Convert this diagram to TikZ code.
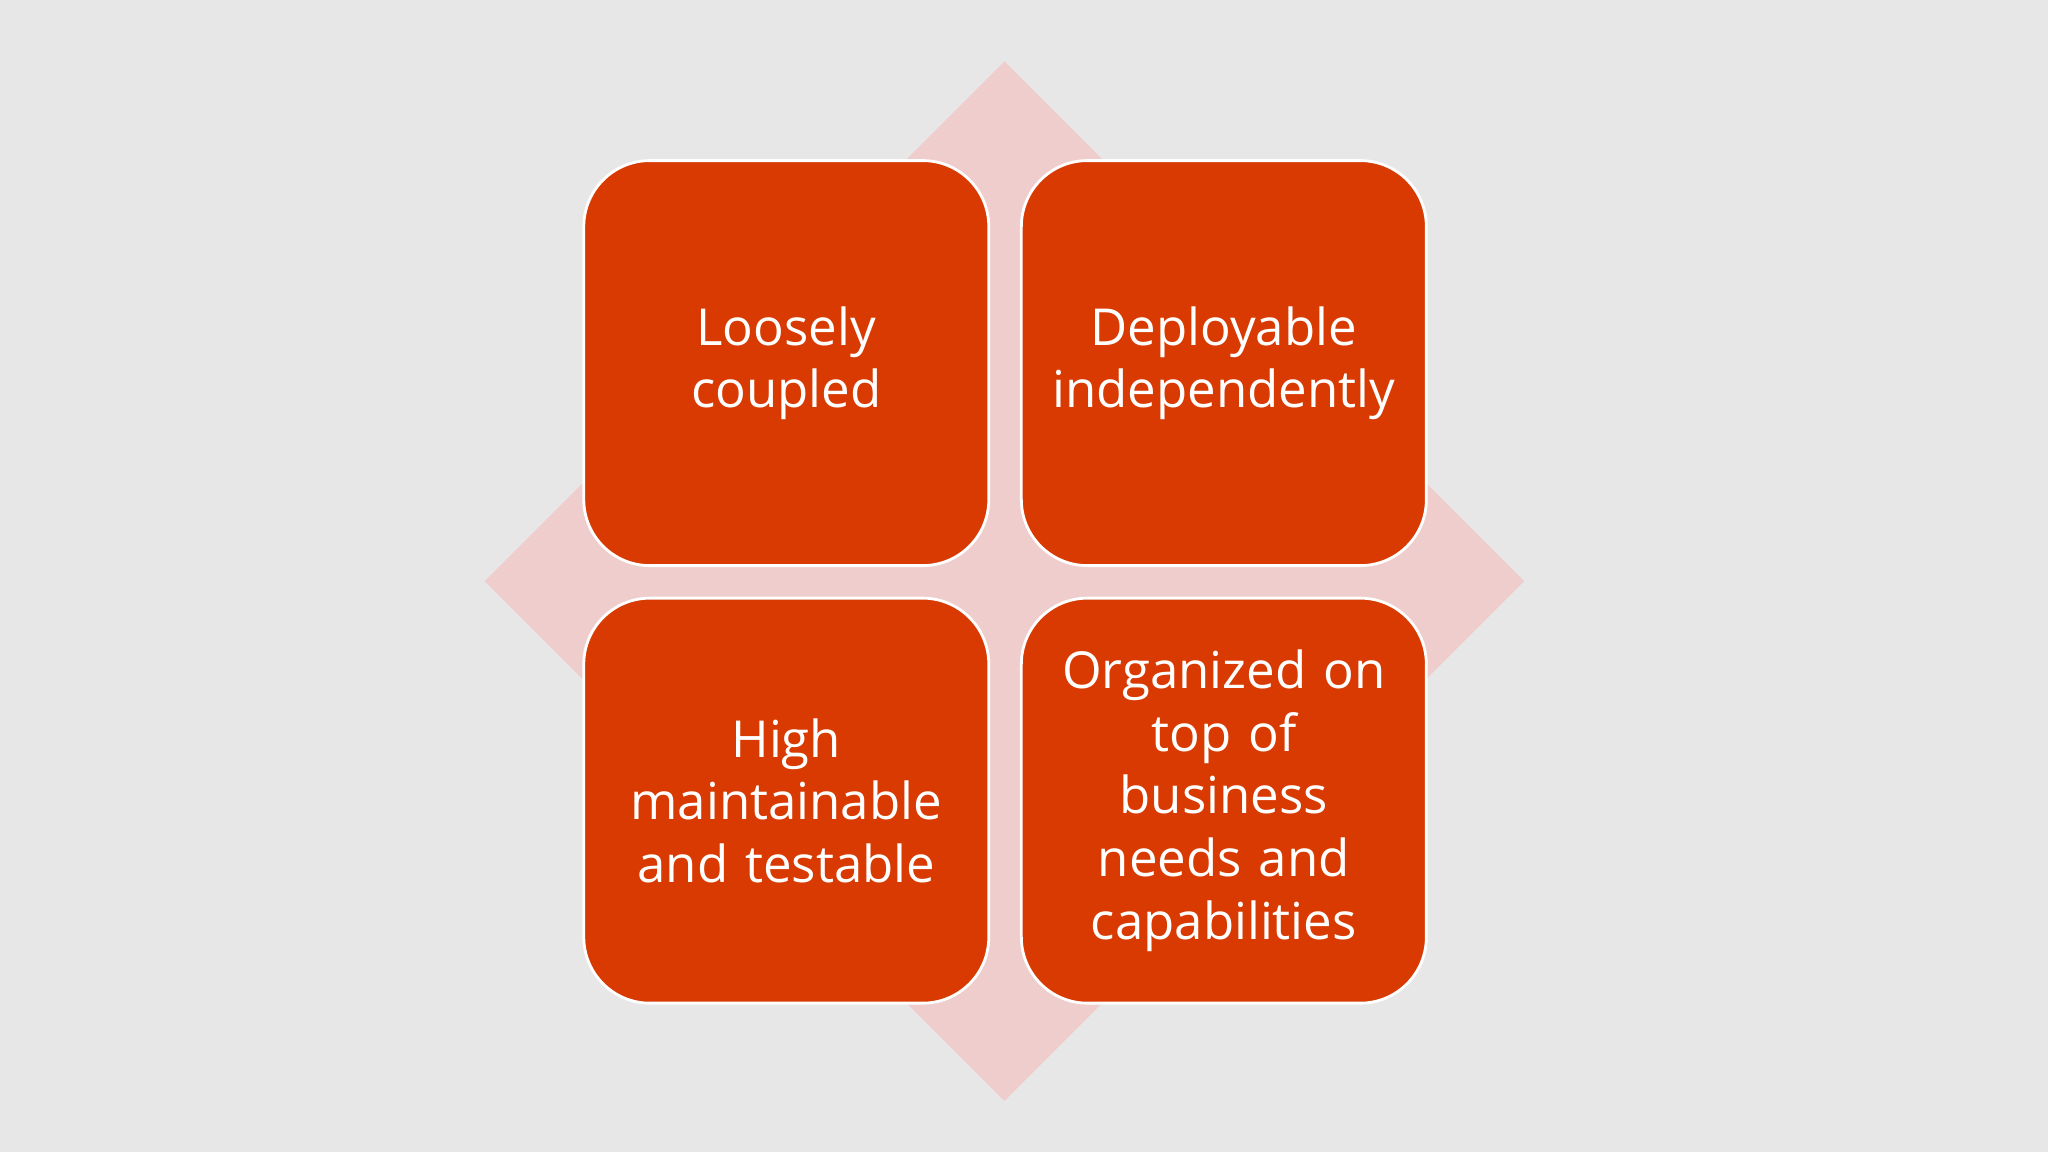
\documentclass[tikz,border=0pt]{standalone}
\usepackage{fontspec}
\setmainfont{Open Sans}
\definecolor{bg}{HTML}{E8E7E7}
\definecolor{dia}{HTML}{EFCDCD}
\definecolor{boxc}{HTML}{D83A01}
\begin{document}
\begin{tikzpicture}[x=0.013061cm,y=-0.013061cm,
  card/.style={draw=white,line width=0.8pt,fill=boxc,rounded corners=0.66cm,minimum width=4.05cm,minimum height=4.05cm,text=white,align=center,font=\fontsize{14.5}{17.8}\selectfont,text width=3.6cm,inner sep=0pt}]
\fill[bg] (0,0) rectangle (1568,882);
\useasboundingbox (0,0) rectangle (1568,882);
\fill[dia] (769,47) -- (1167,445) -- (769,843) -- (371,445) -- cycle;
\node[card] (a) at (602,278) {Loosely\\coupled};
\node[card] (b) at (937,278) {Deployable\\independently};
\node[card] (c) at (602,613) {High\\maintainable\\and testable};
\node[card] (d) at (937,613) {Organized on\\top of\\business\\needs and\\capabilities};
\end{tikzpicture}
\end{document}
